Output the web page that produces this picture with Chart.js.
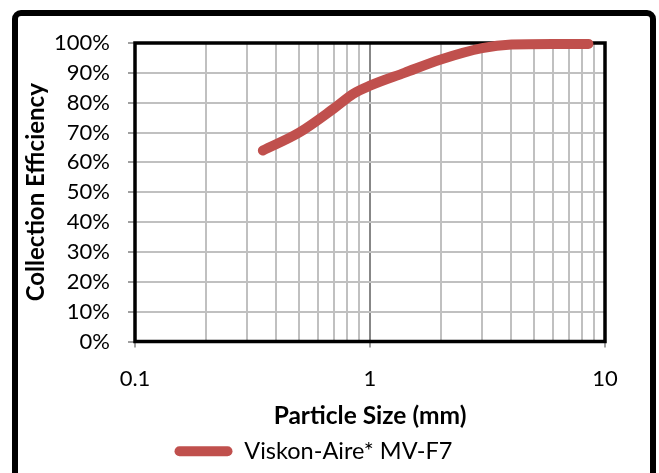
<!DOCTYPE html>
<html>
<head>
<meta charset="utf-8">
<script src="https://cdn.jsdelivr.net/npm/chart.js@4.4.1/dist/chart.umd.min.js"></script>
<style>
  html, body { margin: 0; padding: 0; background: #fff; }
  #wrap { width: 659px; height: 473px; }
</style>
</head>
<body>
<div id="wrap"><canvas id="c" width="659" height="473"></canvas></div>
<script>
// ---- data ----
const particleSize = [0.35, 0.5, 0.7, 0.85, 1.0, 1.4, 2, 3, 4, 6, 8.5];
const efficiency   = [64, 70, 78, 83, 85.7, 90, 94.5, 98.3, 99.5, 99.7, 99.7];
const seriesName = 'Viskon-Aire* MV-F7';
const xTickValues = [0.1,0.2,0.3,0.4,0.5,0.6,0.7,0.8,0.9,1,2,3,4,5,6,7,8,9,10];
const xTickLabels = {0.1: '0.1', 1: '1', 10: '10'};
const yTickValues = [0,10,20,30,40,50,60,70,80,90,100];

const FONT = 'Lato';
const isDecade = v => v === 0.1 || v === 1 || v === 10;

const outerBorder = {
  id: 'outerBorder',
  beforeDraw(chart) {
    const ctx = chart.ctx;
    ctx.save();
    ctx.fillStyle = '#fff';
    ctx.fillRect(0, 0, chart.width, chart.height);
    ctx.strokeStyle = '#000';
    ctx.lineWidth = 6;
    ctx.beginPath();
    ctx.roundRect(15, 13, 638, 500, 6);
    ctx.stroke();
    ctx.restore();
  }
};
const plotFrame = {
  id: 'plotFrame',
  beforeDatasetsDraw(chart) {
    const {ctx, chartArea: a} = chart;
    ctx.save();
    ctx.strokeStyle = '#000';
    ctx.lineWidth = 3.5;
    ctx.strokeRect(a.left, a.top, a.right - a.left, a.bottom - a.top);
    ctx.restore();
  }
};

new Chart(document.getElementById('c'), {
  type: 'line',
  data: {
    datasets: [{
      label: seriesName,
      data: particleSize.map((x, i) => ({x, y: efficiency[i]})),
      borderColor: '#C0504D',
      backgroundColor: '#C0504D',
      borderWidth: 10,
      borderCapStyle: 'round',
      borderJoinStyle: 'round',
      pointRadius: 0,
      cubicInterpolationMode: 'monotone',
      clip: false
    }]
  },
  options: {
    responsive: false,
    animation: false,
    layout: { padding: { left: 22, top: 43, right: 54, bottom: 0 } },
    plugins: {
      legend: {
        position: 'bottom',
        labels: {
          boxWidth: 58,
          boxHeight: 10,
          useBorderRadius: true,
          borderRadius: 5,
          padding: 7,
          color: '#000',
          font: { family: FONT, size: 23.5 },
          generateLabels: chart => Chart.defaults.plugins.legend.labels.generateLabels(chart)
            .map(l => Object.assign(l, { lineWidth: 0, strokeStyle: 'rgba(0,0,0,0)' }))
        }
      },
      tooltip: { enabled: false }
    },
    scales: {
      x: {
        type: 'logarithmic',
        min: 0.1,
        max: 10,
        afterBuildTicks: s => { s.ticks = xTickValues.map(v => ({value: v})); },
        afterFit: s => { s.height = 91; },
        border: { display: false },
        grid: {
          color: c => (c.tick && c.tick.value === 1) ? '#878787' : '#C0C0C0',
          lineWidth: 2,
          tickLength: 6,
          tickColor: c => (c.tick && isDecade(c.tick.value)) ? '#A0A0A0' : 'rgba(0,0,0,0)',
          tickWidth: 2
        },
        ticks: {
          autoSkip: false,
          maxRotation: 0,
          padding: 18,
          color: '#000',
          font: { family: FONT, size: 22 },
          callback: v => xTickLabels[v] !== undefined ? xTickLabels[v] : ''
        },
        title: {
          display: true,
          text: 'Particle Size (mm)',
          color: '#000',
          font: { family: FONT, size: 24.5, weight: 'bold' },
          padding: { top: 0, bottom: 2 }
        }
      },
      y: {
        min: 0,
        max: 100,
        afterBuildTicks: s => { s.ticks = yTickValues.map(v => ({value: v})); },
        afterFit: s => { s.width = 113; },
        border: { display: false },
        grid: {
          color: '#C0C0C0',
          lineWidth: 2,
          tickLength: 7,
          tickColor: '#A0A0A0',
          tickWidth: 2
        },
        ticks: {
          padding: 18,
          color: '#000',
          font: { family: FONT, size: 22 },
          callback: v => v + '%'
        },
        title: {
          display: true,
          text: 'Collection Efficiency',
          color: '#000',
          font: { family: FONT, size: 24, weight: 'bold' },
          padding: { top: 0, bottom: 0 }
        }
      }
    }
  },
  plugins: [outerBorder, plotFrame]
});
</script>
</body>
</html>
